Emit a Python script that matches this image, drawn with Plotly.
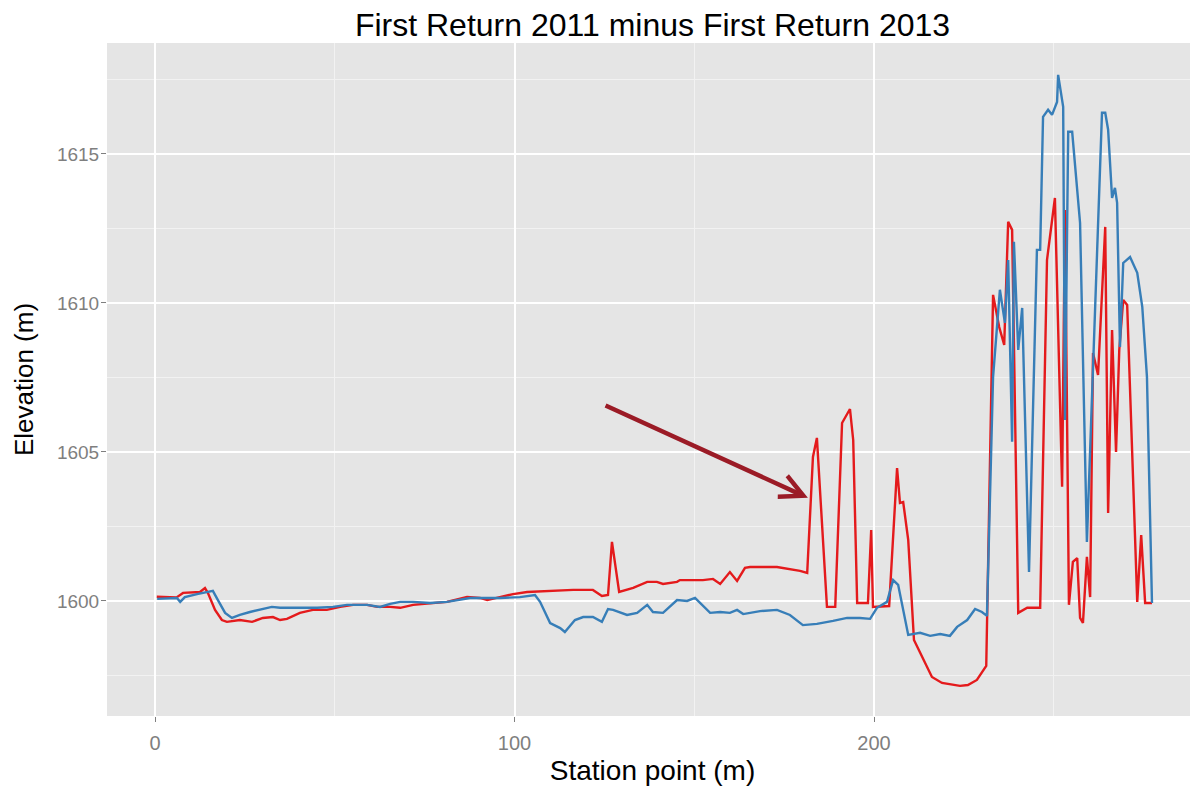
import plotly.graph_objects as go

# ---- data ----
red_x = [0.5, 6.0, 7.8, 12.5, 13.9, 14.7, 16.7, 18.6, 20.0, 23.6, 27.0, 30.0, 32.8, 34.8, 36.7,
         40.3, 43.9, 47.8, 51.5, 55.1, 59.0, 61.8, 65.4, 68.2, 71.8, 76.5, 81.2, 86.8, 90.4, 92.4,
         96.0, 99.6, 103.5, 109.0, 116.3, 121.8, 124.3, 126.0, 127.1, 129.1, 133.0, 136.9, 139.6,
         141.3, 145.2, 146.0, 152.4, 155.2, 157.2, 159.9, 161.9, 164.1, 165.5, 173.0, 179.4, 181.4,
         183.0, 184.1, 186.9, 189.2, 191.1, 193.3, 194.2, 195.3, 198.3, 199.2, 199.7, 204.2, 206.4,
         207.2, 208.1, 209.5, 211.1, 216.1, 218.9, 223.9, 226.1, 228.6, 231.2, 233.1, 234.8, 236.2,
         237.3, 238.4, 240.1, 242.6, 246.2, 248.1, 250.3, 252.3, 253.1, 254.2, 255.3, 256.5, 257.3,
         258.1, 259.2, 260.1, 260.9, 262.3, 264.3, 265.1, 266.2, 267.3, 268.2, 269.3, 270.4, 273.2,
         274.3, 275.4, 277.3]
red_y = [1600.14, 1600.12, 1600.27, 1600.30, 1600.43, 1600.27, 1599.70, 1599.36, 1599.30, 1599.36,
         1599.30, 1599.43, 1599.46, 1599.36, 1599.40, 1599.60, 1599.70, 1599.70, 1599.80, 1599.87,
         1599.87, 1599.80, 1599.80, 1599.77, 1599.87, 1599.93, 1599.97, 1600.13, 1600.10, 1600.03,
         1600.13, 1600.23, 1600.30, 1600.34, 1600.37, 1600.37, 1600.17, 1600.20, 1601.98, 1600.30,
         1600.44, 1600.64, 1600.64, 1600.57, 1600.64, 1600.70, 1600.70, 1600.74, 1600.57, 1600.97,
         1600.67, 1601.11, 1601.14, 1601.14, 1601.01, 1600.94, 1604.83, 1605.47, 1599.80, 1599.80,
         1605.97, 1606.44, 1605.40, 1599.93, 1599.93, 1602.38, 1599.80, 1599.83, 1604.46, 1603.29,
         1603.32, 1602.05, 1598.69, 1597.45, 1597.25, 1597.15, 1597.18, 1597.35, 1597.82, 1610.27,
         1609.19, 1608.59, 1612.72, 1612.45, 1599.60, 1599.77, 1599.77, 1611.44, 1613.52, 1603.83,
         1613.12, 1599.87, 1601.31, 1601.44, 1599.43, 1599.26, 1601.48, 1600.13, 1608.32, 1607.58,
         1612.55, 1602.95, 1609.09, 1605.00, 1608.42, 1610.10, 1609.93, 1599.97, 1602.21, 1599.93,
         1599.93]

blue_x = [0.6, 6.1, 7.0, 8.3, 11.7, 14.5, 16.1, 17.5, 19.5, 21.4, 23.6, 26.4, 30.0, 32.5, 34.8,
          40.3, 45.1, 49.5, 53.4, 59.0, 62.6, 65.4, 68.2, 71.8, 76.5, 81.2, 87.6, 91.2, 96.0, 101.5,
          105.7, 107.1, 109.9, 112.7, 114.0, 116.8, 119.1, 121.8, 124.3, 126.0, 127.4, 131.3, 134.1,
          136.9, 138.5, 141.3, 145.2, 148.0, 150.2, 154.4, 157.2, 159.9, 161.9, 163.6, 168.3, 173.0,
          176.6, 180.2, 184.1, 188.6, 192.5, 196.1, 198.9, 200.8, 203.6, 205.3, 206.7, 209.5, 212.8,
          215.6, 218.4, 221.1, 223.1, 225.9, 228.1, 230.0, 231.4, 233.1, 235.0, 236.4, 237.3, 238.4,
          238.9, 240.1, 241.2, 243.1, 245.3, 246.2, 247.0, 248.4, 249.5, 250.9, 251.2, 252.6, 253.1,
          254.0, 255.1, 257.3, 259.2, 263.4, 264.3, 265.1, 266.2, 267.0, 267.6, 268.4, 269.3, 271.2,
          273.2, 274.6, 275.9, 277.3]
blue_y = [1600.07, 1600.10, 1599.97, 1600.13, 1600.23, 1600.30, 1600.34, 1600.03, 1599.60, 1599.43,
          1599.53, 1599.63, 1599.73, 1599.80, 1599.77, 1599.77, 1599.77, 1599.80, 1599.87, 1599.87,
          1599.80, 1599.90, 1599.97, 1599.97, 1599.93, 1599.97, 1600.10, 1600.10, 1600.10, 1600.13,
          1600.20, 1599.97, 1599.26, 1599.09, 1598.96, 1599.36, 1599.46, 1599.46, 1599.30, 1599.73,
          1599.70, 1599.53, 1599.60, 1599.87, 1599.63, 1599.60, 1600.03, 1600.00, 1600.10, 1599.60,
          1599.63, 1599.60, 1599.70, 1599.56, 1599.66, 1599.70, 1599.53, 1599.19, 1599.23, 1599.33,
          1599.43, 1599.43, 1599.40, 1599.77, 1599.97, 1600.70, 1600.54, 1598.86, 1598.93, 1598.83,
          1598.89, 1598.83, 1599.13, 1599.36, 1599.73, 1599.63, 1599.50, 1607.52, 1610.44, 1609.33,
          1611.44, 1605.34, 1612.05, 1608.42, 1609.83, 1600.97, 1611.78, 1611.78, 1616.24, 1616.48,
          1616.31, 1616.74, 1617.65, 1616.58, 1606.07, 1615.74, 1615.74, 1612.68, 1601.98, 1616.38,
          1616.38, 1615.81, 1613.52, 1613.86, 1613.36, 1608.52, 1611.34, 1611.54, 1611.01, 1609.87,
          1607.52, 1599.93]

x_ticks = [0, 100, 200]
y_ticks = [1600, 1605, 1610, 1615]
arrow_tail = (124.9, 1606.58)
arrow_head = (181.6, 1603.46)

TITLE = "First Return 2011 minus First Return 2013"
XLABEL = "Station point (m)"
YLABEL = "Elevation (m)"

FONT = "Liberation Sans, Arial, sans-serif"
RED = "#E41A1C"
BLUE = "#377EB8"

# the page body has an 8px default margin, so the figure is laid out with that offset in mind
fig = go.Figure()
fig.add_trace(go.Scatter(x=red_x, y=red_y, mode="lines",
                         line=dict(color=RED, width=2.4), showlegend=False))
fig.add_trace(go.Scatter(x=blue_x, y=blue_y, mode="lines",
                         line=dict(color=BLUE, width=2.4), showlegend=False))

fig.add_annotation(x=arrow_head[0], y=arrow_head[1], ax=arrow_tail[0], ay=arrow_tail[1],
                   xref="x", yref="y", axref="x", ayref="y", text="", showarrow=True,
                   arrowhead=5, arrowsize=1, arrowwidth=4.5, arrowcolor="#9B1B26", standoff=0)

fig.update_layout(
    width=1198, height=790,
    margin=dict(l=99, r=8, t=35, b=82, autoexpand=False),
    paper_bgcolor="white", plot_bgcolor="#E5E5E5",
    font=dict(family=FONT, color="black"),
    title=dict(text=TITLE, x=0.5, xref="paper", xanchor="center",
               y=1 - 17 / 790, yref="container", yanchor="middle", automargin=False,
               font=dict(size=32, color="black", family=FONT)),
)
fig.update_xaxes(
    range=[-13.35, 290.1], tickvals=x_ticks, ticks="outside", ticklen=5, tickwidth=1,
    tickcolor="#7F7F7F", tickfont=dict(size=20, color="#7F7F7F"), automargin=False,
    ticklabelstandoff=4,
    showgrid=True, gridcolor="white", gridwidth=2, zeroline=False, showline=False,
    minor=dict(dtick=50, showgrid=True, gridcolor="#F2F2F2", gridwidth=1),
    title=dict(text=XLABEL, font=dict(size=28, color="black"), standoff=7),
)
fig.update_yaxes(
    range=[1596.14, 1618.72], tickvals=y_ticks, ticks="outside", ticklen=5, tickwidth=1,
    tickcolor="#7F7F7F", tickfont=dict(size=19, color="#7F7F7F"), automargin=False,
    ticklabelstandoff=-2,
    showgrid=True, gridcolor="white", gridwidth=2, zeroline=False, showline=False,
    minor=dict(dtick=2.5, showgrid=True, gridcolor="#F2F2F2", gridwidth=1),
    title=dict(text=YLABEL, font=dict(size=26, color="black"), standoff=15),
)

fig.write_html("out.html")
